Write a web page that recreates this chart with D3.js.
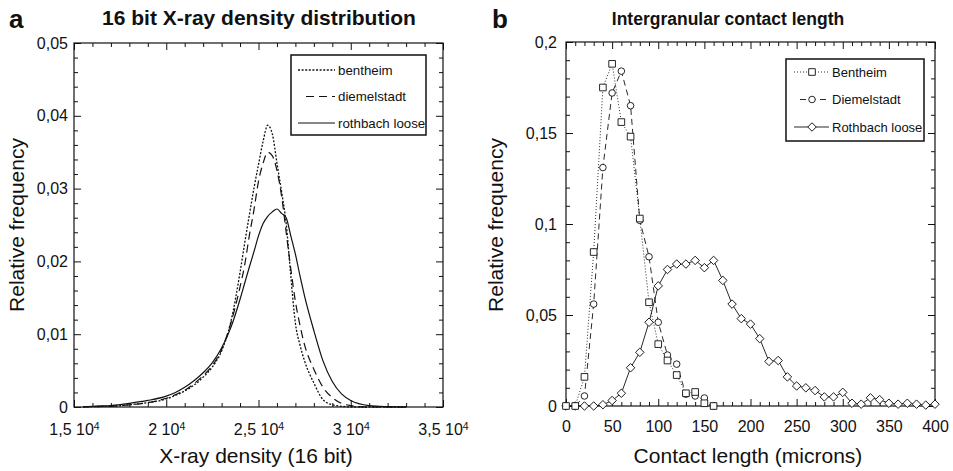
<!DOCTYPE html>
<html>
<head>
<meta charset="utf-8">
<script src="https://cdn.jsdelivr.net/npm/d3@7"></script>
<style>
  body { margin: 0; background: #fff; }
  svg { display: block; }
  text { font-family: "Liberation Sans", Arial, Helvetica, sans-serif; fill: #111; }
</style>
</head>
<body>
<svg id="chart" width="953" height="471"></svg>
<script>
// ---- panel a: 16 bit X-ray density distribution ----
const xrayDensity = [15500, 16000, 17000, 18000, 19000, 20000, 20500, 21000, 21500, 22000,
  22500, 23000, 23500, 24000, 24250, 24500, 24750, 25000, 25250, 25500, 25750, 26000,
  26250, 26500, 26750, 27000, 27250, 27500, 28000, 28500, 29000, 29500, 30000, 31000, 32000, 33000];
const bentheimXray = [0, 0.00005, 0.0001, 0.0003, 0.0006, 0.0011, 0.0016, 0.0022, 0.003, 0.0041,
  0.0055, 0.0077, 0.0117, 0.0185, 0.0225, 0.0263, 0.030, 0.0333, 0.0365, 0.0387, 0.0375, 0.0335,
  0.0296, 0.0252, 0.018, 0.0115, 0.0085, 0.0063, 0.0033, 0.001, 0.0003, 0.0001, 0, 0, 0, 0];
const diemelstadtXray = [0, 0.00005, 0.0001, 0.0003, 0.0006, 0.0012, 0.0017, 0.0023, 0.0032, 0.0043,
  0.0057, 0.0079, 0.0115, 0.0165, 0.0195, 0.0235, 0.027, 0.031, 0.0335, 0.035, 0.0345, 0.0325,
  0.029, 0.024, 0.019, 0.0145, 0.0112, 0.0085, 0.0052, 0.0027, 0.0013, 0.0005, 0.0002, 0, 0, 0];
const rothbachXray = [0, 0.0001, 0.0002, 0.0005, 0.0009, 0.0015, 0.002, 0.0027, 0.0036, 0.0047,
  0.0061, 0.0081, 0.0109, 0.0148, 0.017, 0.0192, 0.0213, 0.0235, 0.0252, 0.0262, 0.0268, 0.0272,
  0.0266, 0.026, 0.0235, 0.021, 0.018, 0.0152, 0.0105, 0.0063, 0.0035, 0.0018, 0.0009, 0.0002, 0.00005, 0];
const xrayTicks = [15000, 20000, 25000, 30000, 35000];
const xrayFreqTicks = [0, 0.01, 0.02, 0.03, 0.04, 0.05];

// ---- panel b: intergranular contact length ----
const contactShort = [0, 10, 20, 30, 40, 50, 60, 70, 80, 90, 100, 110, 120, 130, 140, 150, 160];
const bentheimContact = [0, 0, 0.016, 0.0846, 0.175, 0.188, 0.156, 0.148, 0.103, 0.057,
  0.034, 0.025, 0.017, 0.007, 0.0077, 0.0015, 0];
const diemelstadtContact = [0, 0, 0.0055, 0.056, 0.131, 0.172, 0.184, 0.165, 0.102, 0.082,
  0.046, 0.028, 0.023, 0.0065, 0.0055, 0.0044, 0];
const contactLong = [0, 10, 20, 30, 40, 50, 60, 70, 80, 90, 100, 110, 120, 130, 140, 150, 160,
  170, 180, 190, 200, 210, 220, 230, 240, 250, 260, 270, 280, 290, 300, 310, 320, 330, 340,
  350, 360, 370, 380, 390, 400];
const rothbachContact = [0, 0, 0, 0, 0.0007, 0.003, 0.007, 0.021, 0.0295, 0.046, 0.066, 0.075,
  0.078, 0.078, 0.080, 0.076, 0.080, 0.069, 0.056, 0.048, 0.045, 0.037, 0.0245, 0.025, 0.016,
  0.011, 0.010, 0.0085, 0.005, 0.005, 0.0075, 0.0015, 0.001, 0.0045, 0.0035, 0.0015, 0.001,
  0.0015, 0.001, 0.0005, 0.001];
const contactTicks = [0, 50, 100, 150, 200, 250, 300, 350, 400];
const contactFreqTicks = [0, 0.05, 0.1, 0.15, 0.2];

const svg = d3.select("#chart");
const commaFmt = d => d === 0 ? "0" : String(d).replace(".", ",");

function drawAxes(g, x, y, o) {
  const [xl, xr] = x.range();
  const [yb, yt] = y.range();
  const axes = g.append("g").attr("class", "axes");

  // major ticks with labels
  const bottom = axes.append("g").attr("transform", `translate(0,${yb})`)
    .call(d3.axisBottom(x).tickValues(o.xMajor).tickSizeInner(-7).tickSizeOuter(0)
      .tickPadding(o.xPad).tickFormat(o.xFmt));
  const left = axes.append("g").attr("transform", `translate(${xl},0)`)
    .call(d3.axisLeft(y).tickValues(o.yMajor).tickSizeInner(-7).tickSizeOuter(0)
      .tickPadding(o.yPad).tickFormat(commaFmt));
  axes.append("g").attr("transform", `translate(0,${yt})`)
    .call(d3.axisTop(x).tickValues(o.xMajor).tickSizeInner(-7).tickSizeOuter(0).tickFormat(""));
  axes.append("g").attr("transform", `translate(${xr},0)`)
    .call(d3.axisRight(y).tickValues(o.yMajor).tickSizeInner(-7).tickSizeOuter(0).tickFormat(""));

  // minor ticks
  axes.append("g").attr("transform", `translate(0,${yb})`)
    .call(d3.axisBottom(x).tickValues(o.xMinor).tickSize(-4).tickFormat(""));
  axes.append("g").attr("transform", `translate(0,${yt})`)
    .call(d3.axisTop(x).tickValues(o.xMinor).tickSize(-4).tickFormat(""));
  axes.append("g").attr("transform", `translate(${xl},0)`)
    .call(d3.axisLeft(y).tickValues(o.yMinor).tickSize(-4).tickFormat(""));
  axes.append("g").attr("transform", `translate(${xr},0)`)
    .call(d3.axisRight(y).tickValues(o.yMinor).tickSize(-4).tickFormat(""));

  axes.selectAll(".domain").remove();
  axes.selectAll(".tick line").attr("stroke", "#111");
  axes.selectAll(".tick text").attr("font-size", 16).attr("font-family", null).attr("fill", "#111");

  g.append("rect")
    .attr("x", xl).attr("y", yt)
    .attr("width", xr - xl).attr("height", yb - yt)
    .attr("fill", "none").attr("stroke", "#111").attr("stroke-width", 1.2);

  return { bottom, left };
}

function drawTitles(g, o) {
  g.append("text").attr("x", o.letterX).attr("y", 28)
    .attr("font-size", 26).attr("font-weight", "bold").text(o.letter);
  g.append("text").attr("x", o.titleX).attr("y", 25).attr("text-anchor", "middle")
    .attr("font-size", o.titleSize).attr("font-weight", "bold").text(o.title);
  g.append("text").attr("x", o.xLabelX).attr("y", 463).attr("text-anchor", "middle")
    .attr("font-size", 21).text(o.xLabel);
  g.append("text").attr("transform", `translate(${o.yLabelX},225) rotate(-90)`)
    .attr("text-anchor", "middle").attr("font-size", 21).text("Relative frequency");
}

// ================= panel a =================
const ga = svg.append("g");
const xa = d3.scaleLinear().domain([15000, 35000]).range([74, 443]);
const ya = d3.scaleLinear().domain([0, 0.05]).range([407, 43]);

const axA = drawAxes(ga, xa, ya, {
  xMajor: xrayTicks, xMinor: d3.range(16000, 35000, 1000).filter(v => v % 5000),
  yMajor: xrayFreqTicks, yMinor: d3.range(0.002, 0.05, 0.002).filter((v, i) => (i + 1) % 5),
  xFmt: d => "", xPad: 17, yPad: 6
});
// "1,5 10^4" style labels
axA.bottom.selectAll(".tick text").each(function (d) {
  const t = d3.select(this);
  t.text(null);
  t.append("tspan").text(String(d / 10000).replace(".", ",") + " 10");
  t.append("tspan").attr("dy", "-0.55em").attr("font-size", 10.5).text("4");
});

const lineA = d3.line().x((d, i) => xa(xrayDensity[i])).y(d => ya(d)).curve(d3.curveMonotoneX);
const xraySeries = [
  { name: "bentheim", values: bentheimXray, dash: "2,1.6", width: 1.3 },
  { name: "diemelstadt", values: diemelstadtXray, dash: "8,5", width: 1.2 },
  { name: "rothbach loose", values: rothbachXray, dash: null, width: 1.2 }
];
ga.append("g").selectAll("path").data(xraySeries).join("path")
  .attr("d", s => lineA(s.values))
  .attr("fill", "none").attr("stroke", "#111")
  .attr("stroke-width", s => s.width)
  .attr("stroke-dasharray", s => s.dash);

// legend a
const legA = ga.append("g");
legA.append("rect").attr("x", 291).attr("y", 55).attr("width", 135).attr("height", 80)
  .attr("fill", "#fff").attr("stroke", "#111").attr("stroke-width", 1.5);
xraySeries.forEach((s, i) => {
  const ly = 70 + i * 26.5;
  legA.append("line").attr("x1", i === 1 ? 306 : 298).attr("x2", 335).attr("y1", ly).attr("y2", ly)
    .attr("stroke", "#111").attr("stroke-width", s.width).attr("stroke-dasharray", s.dash);
  legA.append("text").attr("x", 338).attr("y", ly + 4.5).attr("font-size", 13.3).text(s.name);
});

drawTitles(ga, {
  letter: "a", letterX: 9, title: "16 bit X-ray density distribution", titleX: 259, titleSize: 21,
  xLabel: "X-ray density (16 bit)", xLabelX: 256, yLabelX: 24
});

// ================= panel b =================
const gb = svg.append("g");
const xb = d3.scaleLinear().domain([0, 400]).range([566, 935]);
const yb = d3.scaleLinear().domain([0, 0.2]).range([406, 42]);

drawAxes(gb, xb, yb, {
  xMajor: contactTicks, xMinor: d3.range(10, 400, 10).filter(v => v % 50),
  yMajor: contactFreqTicks, yMinor: d3.range(0.01, 0.2, 0.01).filter((v, i) => (i + 1) % 5),
  xFmt: d => d, xPad: 15, yPad: 9
});

const contactSeries = [
  { name: "Rothbach loose", xs: contactLong, values: rothbachContact, dash: null, marker: "diamond" },
  { name: "Diemelstadt", xs: contactShort, values: diemelstadtContact, dash: "6,4", marker: "circle" },
  { name: "Bentheim", xs: contactShort, values: bentheimContact, dash: "1,2", marker: "square" }
];
const markerPath = {
  square: d3.symbol(d3.symbolSquare, 44)(),
  circle: d3.symbol(d3.symbolCircle, 34)(),
  diamond: d3.symbol(d3.symbolSquare, 36)()
};
const markerRot = { square: 0, circle: 0, diamond: 45 };

contactSeries.forEach(s => {
  const pts = s.xs.map((v, i) => [xb(v), yb(s.values[i])]);
  gb.append("path").attr("d", d3.line()(pts))
    .attr("fill", "none").attr("stroke", "#111").attr("stroke-width", 0.9)
    .attr("stroke-dasharray", s.dash);
});
contactSeries.forEach(s => {
  gb.append("g").selectAll("path").data(s.xs).join("path")
    .attr("d", markerPath[s.marker])
    .attr("transform", (v, i) => `translate(${xb(v)},${yb(s.values[i])}) rotate(${markerRot[s.marker]})`)
    .attr("fill", "#fff").attr("stroke", "#111").attr("stroke-width", 0.9);
});

// legend b
const legB = gb.append("g");
legB.append("rect").attr("x", 786).attr("y", 59).attr("width", 138).attr("height", 82)
  .attr("fill", "#fff").attr("stroke", "#111").attr("stroke-width", 1.5);
contactSeries.slice().reverse().forEach((s, i) => {
  const ly = 72 + i * 27.5;
  legB.append("line").attr("x1", s.marker === "circle" ? 800 : 794).attr("x2", 829)
    .attr("y1", ly).attr("y2", ly)
    .attr("stroke", "#111").attr("stroke-width", 0.9).attr("stroke-dasharray", s.dash);
  legB.append("path").attr("d", markerPath[s.marker])
    .attr("transform", `translate(812,${ly}) rotate(${markerRot[s.marker]})`)
    .attr("fill", "#fff").attr("stroke", "#111").attr("stroke-width", 0.9);
  legB.append("text").attr("x", 832).attr("y", ly + 4.5).attr("font-size", 13).text(s.name);
});

drawTitles(gb, {
  letter: "b", letterX: 492, title: "Intergranular contact length", titleX: 728, titleSize: 17.5,
  xLabel: "Contact length (microns)", xLabelX: 748, yLabelX: 503
});
</script>
</body>
</html>
